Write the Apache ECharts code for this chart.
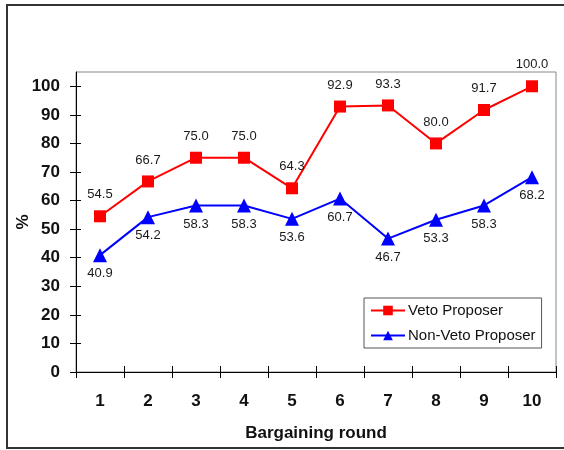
<!DOCTYPE html>
<html>
<head>
<meta charset="utf-8">
<script src="https://cdn.jsdelivr.net/npm/echarts@6/dist/echarts.min.js"></script>
<style>
  html, body { margin: 0; padding: 0; background: #fff; }
  #chart { width: 564px; height: 450px; }
</style>
</head>
<body>
<div id="chart"></div>
<script>
// Share of offers by bargaining round, per proposer type
const rounds = ['1', '2', '3', '4', '5', '6', '7', '8', '9', '10'];
const vetoProposer = [54.5, 66.7, 75.0, 75.0, 64.3, 92.9, 93.3, 80.0, 91.7, 100.0];
const nonVetoProposer = [40.9, 54.2, 58.3, 58.3, 53.6, 60.7, 46.7, 53.3, 58.3, 68.2];
const yTicks = [0, 10, 20, 30, 40, 50, 60, 70, 80, 90, 100];

const FONT = 'Liberation Sans, Arial, sans-serif';
const chart = echarts.init(document.getElementById('chart'), null, { renderer: 'canvas' });

const labelStyle = {
  show: true,
  fontFamily: FONT,
  fontSize: 13,
  color: '#1a1a1a',
  formatter: p => p.value.toFixed(1)
};

chart.setOption({
  animation: false,
  backgroundColor: '#fff',
  graphic: [{
    type: 'polyline',
    shape: { points: [[580, 5], [7, 5], [7, 448], [580, 448]] },
    style: { stroke: '#333', lineWidth: 2, fill: null },
    silent: true
  }],
  grid: {
    left: 76, right: 8, top: 72, bottom: 78,
    outerBoundsMode: 'none',
    containLabel: false,
    show: true, borderColor: '#888', borderWidth: 1, backgroundColor: '#fff'
  },
  legend: {
    orient: 'vertical',
    left: 364, top: 298,
    padding: [5, 6, 5, 6],
    itemGap: 10,
    itemWidth: 34, itemHeight: 12,
    backgroundColor: '#fff',
    borderColor: '#555', borderWidth: 1,
    textStyle: { fontFamily: FONT, fontSize: 15, color: '#111', padding: [0, 0, 0, -2] },
    data: ['Veto Proposer', 'Non-Veto Proposer']
  },
  xAxis: [{
    type: 'category',
    data: rounds,
    boundaryGap: true,
    name: 'Bargaining round',
    nameLocation: 'middle',
    nameGap: 53,
    nameMoveOverlap: false,
    nameTextStyle: { fontFamily: FONT, fontSize: 17, fontWeight: 'bold', color: '#111' },
    axisLine: { lineStyle: { color: '#000', width: 1 } },
    axisTick: { show: true, interval: 0, length: 6, lineStyle: { color: '#000' } },
    axisLabel: { fontFamily: FONT, fontSize: 17, fontWeight: 'bold', color: '#111', margin: 21, interval: 0 },
    splitLine: { show: false }
  }, {
    // inner half of the crossing ticks
    type: 'category',
    data: rounds,
    position: 'bottom',
    boundaryGap: true,
    axisLine: { show: false },
    axisTick: { show: true, inside: true, interval: 0, length: 6, lineStyle: { color: '#000' } },
    axisLabel: { show: false },
    splitLine: { show: false }
  }],
  yAxis: [{
    type: 'value',
    min: 0, max: 105,
    name: '%',
    nameLocation: 'middle',
    nameGap: 44,
    nameMoveOverlap: false,
    nameRotate: 90,
    nameTextStyle: { fontFamily: FONT, fontSize: 17, fontWeight: 'bold', color: '#111' },
    axisLine: { show: true, lineStyle: { color: '#000', width: 1 } },
    axisTick: { show: true, length: 6, customValues: yTicks, lineStyle: { color: '#000' } },
    axisLabel: { fontFamily: FONT, fontSize: 17, fontWeight: 'bold', color: '#111', margin: 16, customValues: yTicks },
    splitLine: { show: false }
  }, {
    type: 'value',
    min: 0, max: 105,
    position: 'left',
    axisLine: { show: false },
    axisTick: { show: true, inside: true, length: 5, customValues: yTicks, lineStyle: { color: '#000' } },
    axisLabel: { show: false },
    splitLine: { show: false }
  }],
  series: [{
    name: 'Veto Proposer',
    type: 'line',
    data: vetoProposer,
    symbol: 'rect',
    symbolSize: 12,
    lineStyle: { color: '#ff0000', width: 2 },
    itemStyle: { color: '#ff0000' },
    label: Object.assign({}, labelStyle, { position: 'top', distance: 9 })
  }, {
    name: 'Non-Veto Proposer',
    type: 'line',
    data: nonVetoProposer,
    symbol: 'triangle',
    symbolSize: 14,
    lineStyle: { color: '#0000ff', width: 2 },
    itemStyle: { color: '#0000ff' },
    label: Object.assign({}, labelStyle, { position: 'bottom', distance: 5 })
  }]
});
</script>
</body>
</html>
